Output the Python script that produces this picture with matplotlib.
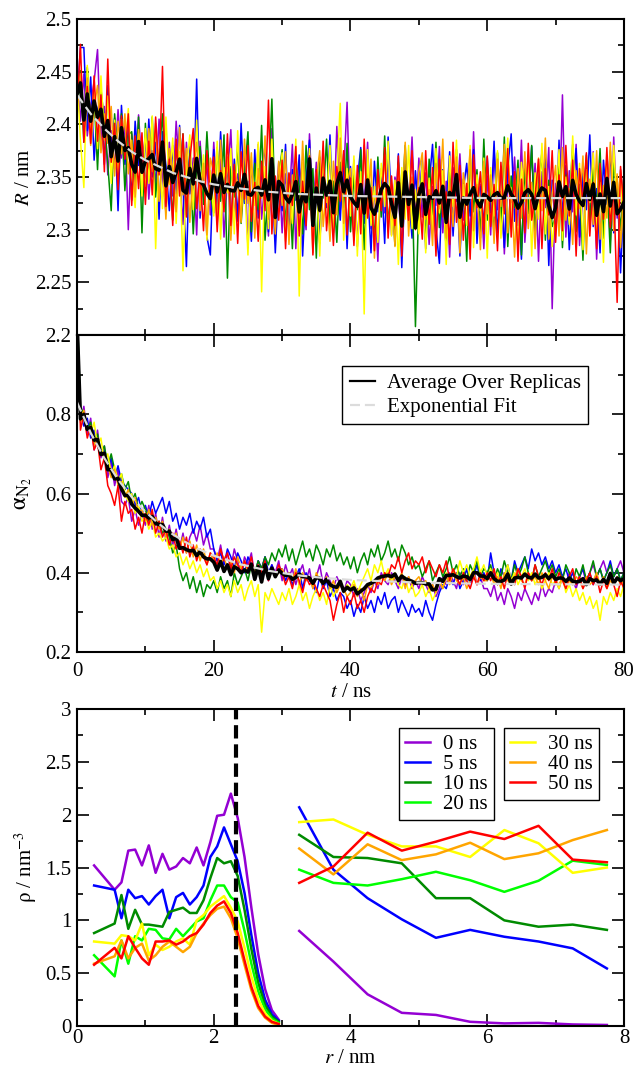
import numpy as np
import matplotlib
matplotlib.use("Agg")
import matplotlib.pyplot as plt
from matplotlib.ticker import MultipleLocator, FuncFormatter

#Replica traces, one sample every 0.5 ns, R stored in pm
T_STEP = 0.5
R_PURPLE = [2443,2403,2448,2389,2418,2441,2471,2380,2417,2352,2394,2358,2414,2368,2403,2300,2391,2341,2409,2359,
            2390,2329,2375,2343,2405,2349,2317,2383,2332,2403,2355,2305,2383,2334,2368,2295,2384,2338,2361,2314,
            2383,2330,2367,2293,2350,2395,2309,2353,2319,2375,2283,2360,2331,2381,2310,2347,2294,2396,2319,2364,
            2297,2353,2324,2381,2282,2359,2340,2300,2391,2314,2364,2288,2345,2325,2373,2305,2398,2318,2352,2421,
            2309,2366,2284,2345,2322,2383,2301,2339,2270,2358,2316,2374,2295,2350,2333,2281,2362,2319,2388,2306,
            2368,2312,2354,2286,2341,2323,2379,2297,2346,2274,2359,2327,2372,2309,2338,2291,2393,2303,2343,2282,
            2351,2295,2376,2319,2360,2277,2347,2326,2369,2304,2385,2288,2337,2313,2363,2270,2355,2321,2378,2225,
            2344,2302,2428,2293,2356,2317,2381,2285,2336,2366,2308,2374,2272,2349,2324,2362,2289,2388,2311,2357,2320]
R_BLUE = [2423,2473,2473,2394,2445,2366,2414,2426,2362,2437,2379,2406,2318,2418,2362,2400,2328,2403,2361,2385,
          2338,2405,2350,2383,2310,2393,2361,2318,2380,2334,2399,2343,2265,2379,2324,2443,2311,2360,2293,2276,
          2376,2320,2393,2332,2359,2297,2367,2308,2401,2325,2346,2289,2376,2311,2352,2380,2298,2357,2278,2347,
          2318,2381,2293,2357,2328,2371,2275,2347,2385,2305,2342,2287,2364,2321,2390,2297,2352,2309,2372,2282,
          2360,2293,2347,2378,2306,2340,2278,2365,2317,2353,2287,2388,2325,2300,2372,2264,2349,2334,2292,2356,
          2310,2366,2282,2343,2381,2301,2268,2357,2320,2374,2294,2350,2275,2338,2363,2313,2376,2287,2341,2304,
          2369,2316,2384,2297,2336,2283,2358,2391,2308,2345,2272,2365,2322,2379,2290,2353,2327,2372,2266,2347,
          2300,2385,2312,2361,2281,2342,2377,2293,2354,2319,2390,2303,2339,2278,2366,2324,2375,2297,2348,2259,2334]
R_GREEN = [2408,2451,2383,2454,2398,2428,2357,2433,2403,2362,2318,2410,2365,2410,2337,2390,2393,2343,2407,2297,
           2401,2346,2407,2331,2370,2410,2333,2372,2309,2381,2345,2391,2314,2372,2296,2361,2379,2324,2393,2334,
           2316,2378,2327,2390,2254,2360,2331,2381,2306,2352,2393,2298,2363,2319,2399,2290,2344,2424,2310,2350,
           2376,2304,2353,2282,2362,2341,2296,2380,2319,2358,2273,2369,2330,2386,2303,2346,2288,2364,2321,2382,
           2298,2351,2319,2376,2281,2358,2335,2290,2369,2312,2389,2304,2342,2285,2364,2323,2380,2308,2348,2208,
           2330,2355,2288,2367,2314,2383,2302,2339,2281,2361,2325,2376,2296,2348,2270,2370,2317,2357,2292,2386,
           2309,2342,2295,2373,2306,2388,2284,2351,2321,2366,2276,2359,2315,2380,2299,2336,2374,2290,2347,2303,
           2312,2364,2283,2352,2324,2381,2298,2343,2271,2371,2306,2360,2319,2377,2292,2349,2278,2365,2332,2301,2354]
R_YELLOW = [2448,2385,2340,2456,2395,2436,2377,2446,2385,2427,2344,2404,2353,2405,2372,2415,2353,2321,2391,2332,
            2396,2344,2408,2282,2375,2320,2407,2343,2387,2306,2374,2261,2358,2390,2319,2404,2330,2371,2290,2356,
            2313,2384,2291,2359,2335,2377,2296,2394,2317,2348,2276,2369,2323,2383,2241,2360,2301,2386,2316,2340,
            2373,2289,2347,2306,2386,2237,2364,2317,2377,2294,2354,2275,2368,2326,2380,2299,2349,2420,2290,2358,
            2313,2370,2275,2355,2220,2376,2304,2341,2288,2363,2322,2384,2294,2347,2267,2359,2310,2380,2301,2338,
            2296,2364,2278,2349,2299,2377,2316,2356,2267,2370,2322,2385,2289,2343,2304,2380,2283,2352,2318,2368,
            2273,2359,2313,2375,2292,2338,2387,2301,2347,2280,2364,2327,2371,2275,2354,2310,2382,2296,2341,2284,
            2321,2376,2290,2350,2305,2389,2314,2363,2281,2357,2326,2373,2295,2345,2269,2368,2308,2380,2316,2356,2286]
R_ORANGE = [2433,2448,2398,2444,2380,2416,2437,2373,2410,2382,2417,2351,2403,2372,2410,2353,2385,2331,2395,2362,
            2341,2396,2355,2401,2327,2372,2310,2377,2357,2317,2397,2333,2377,2307,2358,2383,2318,2363,2295,2368,
            2354,2305,2385,2321,2369,2290,2356,2344,2307,2386,2325,2373,2292,2358,2330,2389,2310,2345,2296,2365,
            2323,2374,2286,2352,2337,2299,2384,2311,2361,2278,2347,2375,2303,2340,2289,2365,2314,2387,2306,2344,
            2358,2290,2346,2307,2380,2315,2367,2273,2353,2325,2371,2298,2343,2284,2361,2319,2383,2294,2350,2303,
            2355,2373,2310,2338,2285,2363,2320,2386,2292,2347,2303,2369,2278,2354,2327,2376,2299,2343,2281,2365,
            2315,2352,2287,2367,2322,2381,2297,2340,2274,2358,2311,2374,2301,2345,2282,2368,2318,2387,2291,2335,
            2361,2294,2378,2309,2339,2286,2356,2320,2370,2277,2348,2305,2375,2291,2342,2311,2383,2299,2353,2283,2344]
R_RED = [2413,2476,2383,2436,2382,2446,2384,2428,2355,2462,2364,2401,2338,2408,2367,2410,2323,2389,2339,2392,
         2324,2384,2333,2407,2352,2455,2322,2367,2304,2386,2332,2391,2312,2367,2396,2320,2354,2299,2375,2329,
         2369,2298,2356,2317,2391,2304,2362,2287,2374,2329,2380,2308,2345,2289,2365,2318,2423,2296,2351,2309,
         2366,2282,2354,2323,2379,2294,2346,2304,2370,2276,2357,2317,2384,2299,2341,2285,2360,2327,2375,2295,
         2349,2285,2361,2296,2386,2311,2340,2280,2357,2318,2378,2292,2351,2304,2370,2275,2345,2309,2375,2300,
         2340,2291,2375,2305,2359,2275,2367,2312,2336,2286,2383,2307,2361,2290,2344,2272,2371,2321,2355,2296,
         2370,2303,2343,2280,2364,2315,2377,2293,2355,2270,2348,2297,2382,2309,2332,2367,2282,2358,2314,2375,
         2288,2352,2299,2380,2313,2366,2275,2358,2326,2373,2294,2345,2282,2363,2310,2378,2302,2341,2231,2360,2318]

#Nitrogen fraction per replica, stored in hundredths
A_PURPLE = [104,78,82,75,79,71,76,69,72,64,68,62,66,58,57,59,53,56,52,55,
            52,57,51,55,49,54,48,52,47,51,46,50,45,49,51,48,52,47,50,46,
            46,43,47,42,45,41,46,43,40,44,42,45,39,43,41,44,38,42,40,43,
            38,42,39,41,37,40,42,38,41,36,39,42,37,40,38,36,39,37,35,38,
            37,34,36,33,35,37,35,38,36,40,38,37,40,38,36,39,37,39,36,38,
            36,39,37,35,37,34,36,39,37,40,38,36,40,37,39,38,41,37,39,36,
            36,34,37,33,35,32,36,34,31,35,33,36,34,32,35,33,37,34,36,35,
            38,36,39,37,40,38,36,39,41,37,40,42,39,41,43,40,42,39,41,43,40]
A_BLUE = [103,80,77,79,74,76,72,70,71,66,69,64,67,63,62,61,60,57,59,55,
          57,54,58,55,57,59,55,58,53,55,51,54,52,55,50,53,51,54,49,51,
          46,43,45,42,46,44,41,45,43,40,44,42,39,43,41,44,40,42,39,41,
          41,38,40,37,39,41,36,40,38,37,35,39,36,38,34,36,33,35,34,31,
          33,29,32,30,34,31,33,30,34,32,35,31,33,34,30,33,31,29,32,30,
          31,29,33,30,28,32,35,37,36,39,37,40,36,38,41,37,39,42,38,40,
          38,45,40,37,41,39,42,38,43,40,42,44,41,46,43,45,42,44,41,43,
          40,42,39,41,38,40,37,39,41,38,40,37,39,41,38,40,43,39,41,38,40]
A_GREEN = [108,82,80,76,78,73,75,70,72,67,70,66,63,65,61,63,58,60,56,58,
           56,53,55,52,53,50,51,49,45,47,41,38,40,36,39,35,38,34,37,36,
           38,35,39,36,38,34,40,37,39,41,38,42,40,43,41,44,42,45,43,46,
           44,47,43,46,42,45,48,44,46,43,47,45,42,46,44,47,43,45,42,44,
           41,44,40,43,45,42,46,44,47,43,45,48,44,46,43,47,45,42,44,41,
           42,39,41,43,38,40,42,39,41,44,40,42,39,41,38,42,40,43,39,41,
           40,42,38,41,39,43,40,38,42,39,41,44,40,38,42,39,41,43,40,42,
           39,41,38,42,40,37,41,39,42,38,40,43,39,41,38,40,42,39,41,38,40]
A_YELLOW = [102,78,80,77,75,78,72,74,68,70,65,67,63,65,60,58,60,55,57,53,
            54,51,53,49,50,48,49,46,47,44,45,42,44,41,43,40,42,39,41,38,
            39,36,38,35,37,34,38,35,37,33,36,38,34,37,25,35,33,36,34,32,
            35,33,36,32,34,37,33,35,31,34,36,33,35,32,37,34,36,38,35,37,
            36,38,35,37,39,41,38,42,40,43,39,41,38,40,37,36,39,35,37,34,
            35,37,34,36,33,35,38,36,40,38,41,39,43,40,42,39,41,44,40,42,
            39,41,38,40,37,39,42,38,40,37,39,41,38,40,37,39,36,38,40,37,
            38,36,39,35,37,34,36,33,35,32,34,31,33,28,34,32,35,33,36,34,37]
A_ORANGE = [101,79,81,76,77,72,74,70,69,67,64,66,62,63,59,61,57,59,55,56,
            53,56,52,54,51,53,49,51,48,50,46,49,45,48,44,47,43,46,42,45,
            43,45,42,44,41,43,40,44,41,43,40,42,39,41,38,42,40,41,39,40,
            41,39,40,38,41,37,40,38,39,36,40,38,37,39,36,38,35,37,36,34,
            35,37,34,36,33,37,36,38,37,39,38,40,37,39,38,40,36,39,37,38,
            39,37,38,36,37,35,38,36,39,37,40,38,37,39,36,38,40,37,39,38,
            38,40,37,39,36,40,38,37,39,41,38,37,40,38,39,37,40,38,36,39,
            38,37,39,36,38,37,39,38,36,39,37,38,40,37,39,36,38,37,39,37,38]
A_RED = [106,76,80,74,77,71,73,66,69,62,60,57,62,53,58,55,56,51,54,50,
         55,52,56,50,53,49,51,47,50,46,48,45,49,44,47,43,46,44,42,45,
         44,42,46,43,45,41,44,42,40,43,41,44,39,42,40,43,38,41,39,42,
         40,37,39,36,40,38,35,39,37,38,36,34,37,35,33,28,32,35,30,34,
         32,35,31,33,30,34,36,35,38,37,40,39,42,41,44,40,43,45,41,43,
         42,44,40,43,41,39,42,40,43,38,41,39,37,40,38,36,39,37,40,38,
         40,38,41,37,39,36,40,38,37,41,39,36,40,38,42,39,37,40,38,41,
         37,40,38,36,39,41,37,39,36,38,40,37,39,35,38,36,39,37,34,38,36]
REP_COLORS = ["#9400d3", "#0000ff", "#008b00", "#ffff00", "#ffa500", "#ff0000"]

#Exponential fit
FIT_T = [0, 2, 4, 6, 8, 10, 12, 14, 16, 18, 20, 24, 28, 32, 36, 40, 50, 60, 70, 80]
FIT_R = [2.428, 2.410, 2.396, 2.384, 2.374, 2.366, 2.360, 2.354, 2.350, 2.346,
         2.343, 2.339, 2.336, 2.334, 2.333, 2.332, 2.331, 2.330, 2.330, 2.330]
FIT_A = [0.830, 0.753, 0.689, 0.635, 0.591, 0.554, 0.523, 0.497, 0.476, 0.458,
         0.443, 0.421, 0.405, 0.394, 0.387, 0.382, 0.375, 0.372, 0.371, 0.370]

#Density profiles, inner cluster and outer solvent shells
R_IN = [0.25, 0.55, 0.65, 0.75, 0.85, 0.95, 1.05, 1.15, 1.25, 1.35, 1.45, 1.55, 1.65,
        1.75, 1.85, 1.95, 2.05, 2.15, 2.25, 2.35, 2.45, 2.55, 2.65, 2.75, 2.85, 2.95]
R_OUT = [3.25, 3.75, 4.25, 4.75, 5.25, 5.75, 6.25, 6.75, 7.25, 7.75]
RHO_LABELS = ["0 ns", "5 ns", "10 ns", "20 ns", "30 ns", "40 ns", "50 ns"]
RHO_COLORS = ["#9400d3", "#0000ff", "#008b00", "#00ff00", "#ffff00", "#ffa500", "#ff0000"]
RHO_IN_0 = [1.52, 1.29, 1.36, 1.66, 1.67, 1.52, 1.71, 1.45, 1.63, 1.48, 1.51, 1.59, 1.54,
            1.69, 1.52, 1.74, 1.99, 2.00, 2.20, 1.97, 1.60, 1.12, 0.68, 0.35, 0.15, 0.06]
RHO_IN_5 = [1.33, 1.29, 1.02, 1.29, 1.21, 1.23, 1.15, 1.23, 1.29, 1.02, 1.22, 1.26, 1.15,
            1.22, 1.33, 1.60, 1.70, 1.88, 1.72, 1.56, 1.26, 0.86, 0.50, 0.25, 0.11, 0.05]
RHO_IN_10 = [0.88, 0.97, 1.24, 0.92, 1.10, 0.96, 0.96, 0.95, 0.94, 1.08, 1.10, 1.12, 1.07,
             1.07, 1.19, 1.40, 1.59, 1.54, 1.56, 1.42, 1.10, 0.73, 0.41, 0.20, 0.09, 0.04]
RHO_IN_20 = [0.67, 0.47, 0.81, 0.59, 0.85, 0.81, 0.92, 0.91, 0.83, 0.82, 0.92, 0.85, 0.92,
             0.99, 1.02, 1.19, 1.33, 1.33, 1.22, 1.17, 0.90, 0.59, 0.33, 0.16, 0.07, 0.03]
RHO_IN_30 = [0.80, 0.78, 0.86, 0.85, 0.81, 0.97, 0.67, 0.77, 0.72, 0.75, 0.80, 0.83, 0.77,
             1.00, 1.05, 1.13, 1.18, 1.23, 1.12, 0.99, 0.74, 0.47, 0.25, 0.12, 0.05, 0.02]
RHO_IN_40 = [0.59, 0.66, 0.81, 0.64, 0.74, 0.78, 0.62, 0.67, 0.75, 0.80, 0.75, 0.70, 0.75,
             0.88, 0.97, 1.05, 1.11, 1.13, 1.02, 0.83, 0.58, 0.34, 0.17, 0.08, 0.03, 0.01]
RHO_IN_50 = [0.58, 0.74, 0.64, 0.85, 0.74, 0.64, 0.58, 0.80, 0.80, 0.81, 0.77, 0.80, 0.85,
             0.88, 0.96, 1.07, 1.14, 1.18, 1.07, 0.88, 0.62, 0.37, 0.19, 0.09, 0.04, 0.02]
RHO_OUT_0 = [0.90, 0.61, 0.30, 0.125, 0.105, 0.04, 0.025, 0.03, 0.015, 0.01]
RHO_OUT_5 = [2.07, 1.48, 1.21, 1.01, 0.835, 0.91, 0.845, 0.80, 0.735, 0.545]
RHO_OUT_10 = [1.81, 1.60, 1.59, 1.54, 1.21, 1.21, 1.00, 0.94, 0.96, 0.91]
RHO_OUT_20 = [1.48, 1.355, 1.33, 1.39, 1.46, 1.38, 1.27, 1.375, 1.565, 1.525]
RHO_OUT_30 = [1.93, 1.955, 1.81, 1.70, 1.70, 1.60, 1.855, 1.73, 1.45, 1.50]
RHO_OUT_40 = [1.68, 1.435, 1.72, 1.57, 1.625, 1.735, 1.58, 1.635, 1.76, 1.855]
RHO_OUT_50 = [1.355, 1.51, 1.83, 1.66, 1.745, 1.84, 1.77, 1.895, 1.575, 1.55]
SHELL_R = [2.33, 2.33]
SHELL_RHO = [0.0, 3.0]

plt.rcParams["font.family"] = ["Liberation Serif", "DejaVu Serif"]
plt.rcParams["mathtext.fontset"] = "stix"
plt.rcParams["font.size"] = 15

LEFT, WIDTH = 0.1211, 0.860
FMT = FuncFormatter(lambda v, _: f"{v:g}")

def _style(ax, xmaj, xmin, ymaj, ymin):
    ax.xaxis.set_major_locator(MultipleLocator(xmaj))
    ax.xaxis.set_minor_locator(MultipleLocator(xmin))
    ax.yaxis.set_major_locator(MultipleLocator(ymaj))
    ax.yaxis.set_minor_locator(MultipleLocator(ymin))
    ax.xaxis.set_major_formatter(FMT)
    ax.yaxis.set_major_formatter(FMT)
    ax.tick_params(which="both", direction="in", top=True, right=True, width=1.2)
    ax.tick_params(which="major", length=8.5)
    ax.tick_params(which="minor", length=4.5)
    ax.tick_params(axis="y", pad=4)
    for s in ax.spines.values():
        s.set_linewidth(1.5)

fig = plt.figure(figsize=(6.36, 10.69), dpi=100)
ax1 = fig.add_axes([LEFT, 0.6866, WIDTH, 0.2956])
ax2 = fig.add_axes([LEFT, 0.3901, WIDTH, 0.2965])
ax3 = fig.add_axes([LEFT, 0.0402, WIDTH, 0.2965])

#Top panel, radius of gyration per replica
r_reps = [R_PURPLE, R_BLUE, R_GREEN, R_YELLOW, R_ORANGE, R_RED]
R = np.vstack(r_reps) / 1000.0
t = np.arange(R.shape[1]) * T_STEP
for vals, col in zip(R, REP_COLORS):
    ax1.plot(t, vals, color=col, lw=1.1)
ax1.plot(t, R.mean(axis=0), color="k", lw=2.6)
ax1.plot(FIT_T, FIT_R, color="#dcdcdc", lw=1.6, dashes=(4.5, 2.2))
_style(ax1, 20, 10, 0.05, 0.025)
ax1.set_xlim(0, 80)
ax1.set_ylim(2.2, 2.5)
ax1.tick_params(axis="x", labelbottom=False)
ax1.set_ylabel(r"$R$ / nm")
ax1.yaxis.set_label_coords(-0.079, 0.5)

#Middle panel, nitrogen fraction
a_reps = [A_PURPLE, A_BLUE, A_GREEN, A_YELLOW, A_ORANGE, A_RED]
A = np.vstack(a_reps) / 100.0
ta = np.arange(A.shape[1]) * T_STEP
for vals, col in zip(A, REP_COLORS):
    ax2.plot(ta, vals, color=col, lw=1.1)
ax2.plot(ta, A.mean(axis=0), color="k", lw=2.6, label="Average Over Replicas")
ax2.plot(FIT_T, FIT_A, color="#dcdcdc", lw=1.6, dashes=(4.5, 2.2), label="Exponential Fit")
_style(ax2, 20, 10, 0.2, 0.1)
ax2.set_yticks([0.2, 0.4, 0.6, 0.8])
ax2.set_xlim(0, 80)
ax2.set_ylim(0.2, 1.0)
ax2.tick_params(axis="x", pad=7)
ax2.set_xlabel(r"$t$ / ns", labelpad=2)
ax2.set_ylabel(r"$\mathrm{\alpha}_{\mathrm{N}_{2}}$", fontsize=17)
ax2.yaxis.set_label_coords(-0.078, 0.5)
leg = ax2.legend(loc="upper left", bbox_to_anchor=(0.485, 0.901), frameon=True,
                 fancybox=False, edgecolor="k", framealpha=1, borderpad=0.35,
                 handlelength=1.2, handletextpad=0.6, labelspacing=0.2, borderaxespad=0)
leg.get_frame().set_linewidth(1.0)
for h in leg.get_lines():
    h.set_linewidth(1.6)

#Bottom panel, density profiles at the sampled times
rho_in = [RHO_IN_0, RHO_IN_5, RHO_IN_10, RHO_IN_20, RHO_IN_30, RHO_IN_40, RHO_IN_50]
rho_out = [RHO_OUT_0, RHO_OUT_5, RHO_OUT_10, RHO_OUT_20, RHO_OUT_30, RHO_OUT_40, RHO_OUT_50]
handles = []
for yin, yout, col, lab in zip(rho_in, rho_out, RHO_COLORS, RHO_LABELS):
    h, = ax3.plot(R_IN, yin, color=col, lw=1.8, label=lab)
    ax3.plot(R_OUT, yout, color=col, lw=1.8)
    handles.append(h)
ax3.plot(SHELL_R, SHELL_RHO, color="k", lw=3, dashes=(3.2, 1.4))
_style(ax3, 2, 1, 0.5, 0.25)
ax3.set_xlim(0, 8)
ax3.set_ylim(0, 3)
ax3.tick_params(axis="x", pad=2)
ax3.set_xlabel(r"$r$ / nm", labelpad=1)
ax3.set_ylabel(r"$\mathrm{\rho}$ / nm$^{-3}$")
ax3.yaxis.set_label_coords(-0.07, 0.5)
kw = dict(loc="upper left", frameon=True, fancybox=False, edgecolor="k", framealpha=1,
          borderpad=0.3, handlelength=1.2, handletextpad=0.6, labelspacing=0.02,
          borderaxespad=0)
leg1 = ax3.legend(handles[:4], RHO_LABELS[:4], bbox_to_anchor=(0.589, 0.939), **kw)
leg1.get_frame().set_linewidth(1.0)
ax3.add_artist(leg1)
leg2 = ax3.legend(handles[4:], RHO_LABELS[4:], bbox_to_anchor=(0.781, 0.939), **kw)
leg2.get_frame().set_linewidth(1.0)

fig.savefig("out.png", dpi=100)
